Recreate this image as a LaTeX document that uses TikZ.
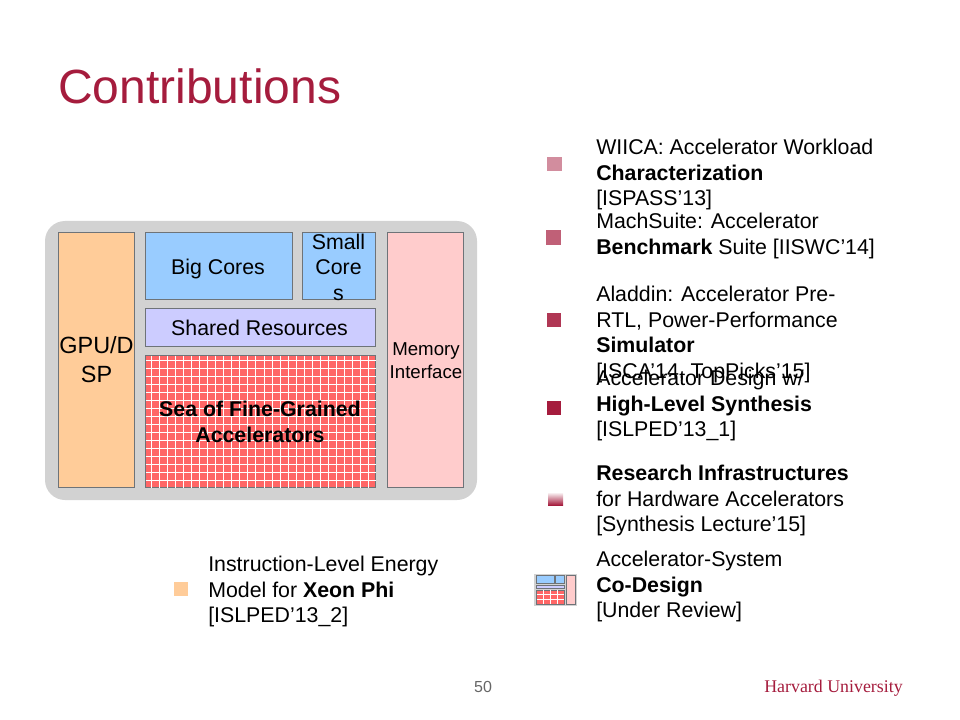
\documentclass[tikz,border=0pt]{standalone}
\usepackage{fontspec}
\setmainfont{Liberation Sans}
\newfontfamily\serifname{Liberation Serif}
\definecolor{crimson}{HTML}{A51C3D}
\definecolor{peach}{HTML}{FFCC99}
\definecolor{skyblock}{HTML}{99CCFF}
\definecolor{lavblock}{HTML}{CCCCFF}
\definecolor{redblock}{HTML}{FF6666}
\definecolor{pinkblock}{HTML}{FFCCCC}
\definecolor{chipgray}{HTML}{D2D2D2}
\definecolor{edgegray}{HTML}{6E7378}
\tikzset{
  blockbox/.style={draw=edgegray,line width=0.6pt,inner sep=0pt,align=center,font=\fontsize{16}{19.2}\selectfont},
  bodytext/.style={anchor=north west,inner sep=0pt,align=left,font=\fontsize{16}{19.2}\selectfont,execute at begin node=\strut},
  legendsq/.style={inner sep=0pt,minimum size=10.8pt},
  smallbox/.style={draw=edgegray,line width=0.5pt}
}
\begin{document}
\begin{tikzpicture}[x=0.75pt,y=-0.75pt]
\useasboundingbox (0,0) rectangle (960,720);
\node[anchor=base west,inner sep=0pt,text=crimson,font=\fontsize{36}{43}\selectfont] (title) at (58,104) {Contributions};
% chip
\fill[chipgray,rounded corners=15pt] (45,221) rectangle (477,500);
\node[blockbox,fill=peach,minimum width=57.4pt,minimum height=191.6pt,font=\fontsize{17.6}{21.6}\selectfont] (gpu) at (96.5,360) {GPU/D\\SP};
\node[blockbox,fill=skyblock,minimum width=110.6pt,minimum height=50.6pt] (big) at (219,266) {};
\node[blockbox,fill=skyblock,minimum width=55.1pt,minimum height=50.6pt] (small) at (339,266) {};
\node[blockbox,fill=lavblock,minimum width=172.9pt,minimum height=28.9pt] (shared) at (260.5,327.5) {\hspace{-1.5pt}Shared Resources};
\node[blockbox,fill=pinkblock,minimum width=57.4pt,minimum height=191.6pt] (memory) at (425.5,360) {};
\node[blockbox,fill=redblock,minimum width=172.9pt,minimum height=99.4pt] (sea) at (260.5,421.5) {};
\foreach \i in {0,...,27} \draw[white,line width=0.7pt] ({151.7+\i*8.02},355.5) -- ({151.7+\i*8.02},487.5);
\foreach \i in {0,...,15} \draw[white,line width=0.7pt] (145.5,{360+\i*8.06}) -- (375.5,{360+\i*8.06});
\node[inner sep=0pt,align=center,font=\fontsize{16}{19.2}\selectfont] (bigtext) at (218,269) {Big Cores};
\node[inner sep=0pt,align=center,font=\fontsize{16}{19.2}\selectfont] (smalltext) at (338.5,267) {Small\\Core\\s};
\node[inner sep=0pt,align=center,font=\fontsize{14}{17.5}\selectfont] (memtext) at (426,361) {Memory\\Interface};
\node[inner sep=0pt,align=center,font=\bfseries\fontsize{16}{19.2}\selectfont] (seatext) at (260,422) {Sea of Fine-Grained\\Accelerators};
% legend squares
\node[legendsq,fill=peach] (sqxeon) at (181,589) {};
\node[legendsq,fill=crimson!50] (sqwiica) at (554.5,164) {};
\node[legendsq,fill=crimson!70] (sqmach) at (553.5,237.5) {};
\node[legendsq,fill=crimson!88] (sqaladdin) at (554,320) {};
\node[legendsq,fill=crimson] (sqdesign) at (554,408) {};
\shade[top color=white,bottom color=crimson] (548,492) rectangle (563,505);
% small chip
\fill[chipgray] (534,574) rectangle (577,606);
\draw[smallbox,fill=skyblock] (536.3,575.7) rectangle (554.3,583.3);
\draw[smallbox,fill=skyblock] (555.7,575.7) rectangle (564.3,583.3);
\draw[smallbox,fill=lavblock] (536.3,585) rectangle (564.3,588.3);
\draw[smallbox,fill=redblock] (536.3,590) rectangle (564.3,604.3);
\draw[smallbox,fill=pinkblock] (566.7,575.7) rectangle (575.7,604.3);
\foreach \i in {1,2,3} \draw[white,line width=0.5pt] ({536.3+\i*7},590.3) -- ({536.3+\i*7},604);
\foreach \i in {1,2} \draw[white,line width=0.5pt] (536.6,{590+\i*4.8}) -- (564,{590+\i*4.8});
% texts
\node[bodytext] (wiica) at (596,139) {WIICA: Accelerator Workload\\\textbf{Characterization}\\{[ISPASS’13]}};
\node[bodytext] (mach) at (596,213) {MachSuite: Accelerator\\\textbf{Benchmark} Suite [IISWC’14]};
\node[bodytext] (aladdin) at (596,286) {Aladdin: Accelerator Pre-\\RTL, Power-Performance\\\textbf{Simulator}\\{[ISCA’14, TopPicks’15]}};
\node[bodytext] (design) at (596,370) {Accelerator Design w/\\\textbf{High-Level Synthesis}\\{[ISLPED’13\_1]}};
\node[bodytext] (research) at (596,465) {\textbf{Research Infrastructures}\\for Hardware Accelerators\\{[Synthesis Lecture’15]}};
\node[bodytext] (codesign) at (596,551) {Accelerator-System\\\textbf{Co-Design}\\{[Under Review]}};
\node[bodytext] (xeon) at (208,556) {Instruction-Level Energy\\Model for \textbf{Xeon Phi}\\{[ISLPED’13\_2]}};
% footer
\node[inner sep=0pt,text=black!60,font=\fontsize{12}{14}\selectfont] (pagenum) at (483,687) {50};
\node[anchor=east,inner sep=0pt,text=crimson,font=\serifname\fontsize{13.4}{16}\selectfont] (harvard) at (903,688) {Harvard University};
\end{tikzpicture}
\end{document}
